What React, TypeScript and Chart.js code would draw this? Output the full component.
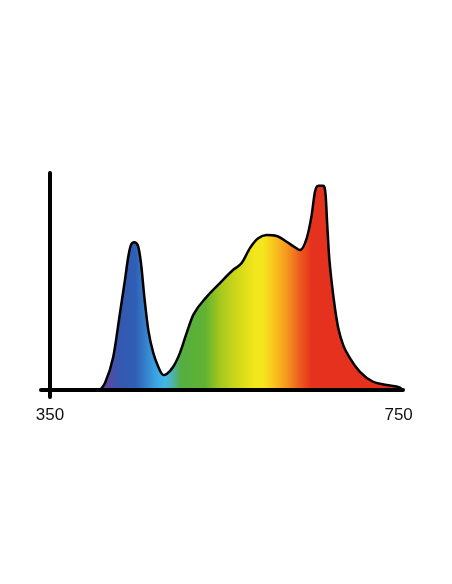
import React, { useEffect, useRef } from "react";
import { Chart, registerables } from "chart.js";

Chart.register(...registerables);

// Wavelength (nm) and relative intensity (%) of the spectrum curve
const WAVELENGTHS = [
  407.4, 413.1, 422.6, 430.3, 436.0, 439.8, 442.9, 446.4, 450.6, 454.4,
  458.2, 462.8, 468.5, 474.2, 480.0, 483.9, 491.4, 499.1, 506.8, 514.4,
  529.7, 545.0, 559.9, 569.9, 579.4, 588.9, 598.6, 610.0, 621.5, 631.0,
  636.8, 644.5, 650.2, 654.0, 657.8, 663.5, 666.2, 668.1, 670.4, 673.1,
  676.9, 680.7, 686.4, 694.1, 705.6, 720.8, 736.2, 751.5, 755.0,
];
const INTENSITY = [
  0, 3.2, 15.3, 35.5, 50.7, 61.4, 66.8, 68.1, 66.8, 58.5,
  43.0, 27.6, 17.1, 10.7, 6.9, 7.4, 10.7, 17.1, 26.3, 34.6,
  42.9, 49.3, 55.3, 58.5, 65.4, 69.9, 71.4, 71.0, 68.3, 65.8,
  64.5, 69.9, 80.6, 91.4, 94.1, 94.1, 89.9, 76.0, 60.8, 49.9,
  37.8, 28.6, 20.7, 14.7, 8.4, 3.8, 2.3, 1.1, 0,
];

// Spectrum gradient stops
const GRADIENT_NM = [
  400, 415, 430, 448, 460, 470, 482, 492, 500, 528, 545, 565, 585, 594,
  606, 622, 637, 650, 755,
];
const GRADIENT_COLORS = [
  "#5b48a0", "#5a4aa0", "#3558b0", "#2f5fb5", "#3580cc", "#3aa0e0",
  "#40b8e8", "#50b0a0", "#55ae40", "#60b232", "#a5c81e", "#d0d81a",
  "#f2e61c", "#f5e61e", "#f8c81e", "#f5961e", "#ee5a1e", "#e5321e",
  "#e5301e",
];

const TICK_VALUES = [350, 750];
const TICK_LABELS = ["350", "750"];

const X_MIN = 350;
const X_MAX = 755;

export default function App() {
  const canvasRef = useRef<HTMLCanvasElement | null>(null);

  useEffect(() => {
    const canvas = canvasRef.current;
    if (!canvas) return;

    const axesPlugin = {
      id: "handAxes",
      afterDatasetsDraw(chart: any) {
        const { ctx, chartArea, scales } = chart;
        const x0 = scales.x.getPixelForValue(X_MIN);
        const y0 = scales.y.getPixelForValue(0);
        ctx.save();
        ctx.strokeStyle = "#000";
        ctx.lineCap = "round";
        // vertical axis
        ctx.lineWidth = 4;
        ctx.beginPath();
        ctx.moveTo(x0, chartArea.top);
        ctx.lineTo(x0, y0 + 7);
        ctx.stroke();
        // horizontal axis
        ctx.lineWidth = 4;
        ctx.beginPath();
        ctx.moveTo(x0 - 9, y0);
        ctx.lineTo(chartArea.right, y0);
        ctx.stroke();
        // tick labels
        ctx.fillStyle = "#111";
        ctx.font = '17px "Liberation Sans", Arial, sans-serif';
        ctx.textAlign = "center";
        ctx.textBaseline = "alphabetic";
        TICK_VALUES.forEach((v, i) => {
          const px = scales.x.getPixelForValue(v);
          ctx.fillText(TICK_LABELS[i], px, y0 + 30);
        });
        ctx.restore();
      },
    };

    const chart = new Chart(canvas, {
      type: "line",
      data: {
        datasets: [
          {
            data: WAVELENGTHS.map((w, i) => ({ x: w, y: INTENSITY[i] })),
            borderColor: "#000",
            borderWidth: 2.5,
            pointRadius: 0,
            cubicInterpolationMode: "monotone",
            fill: "origin",
            backgroundColor: (c: any) => {
              const ch = c.chart;
              const { ctx, chartArea, scales } = ch;
              if (!chartArea || !scales.x) return "#e5301e";
              const l = scales.x.getPixelForValue(X_MIN);
              const r = scales.x.getPixelForValue(X_MAX);
              const g = ctx.createLinearGradient(l, 0, r, 0);
              GRADIENT_NM.forEach((nm, i) => {
                const p = (nm - X_MIN) / (X_MAX - X_MIN);
                g.addColorStop(Math.min(1, Math.max(0, p)), GRADIENT_COLORS[i]);
              });
              return g;
            },
          },
        ],
      },
      options: {
        animation: false,
        responsive: false,
        layout: { padding: { left: 50, right: 49, top: 173, bottom: 194 } },
        plugins: { legend: { display: false }, tooltip: { enabled: false } },
        scales: {
          x: { type: "linear", min: X_MIN, max: X_MAX, display: false },
          y: { min: 0, max: 100, display: false },
        },
      },
      plugins: [axesPlugin],
    });

    return () => chart.destroy();
  }, []);

  return (
    <div
      style={{
        position: "fixed",
        left: 0,
        top: 0,
        width: 452,
        height: 584,
        background: "#fff",
      }}
    >
      <canvas ref={canvasRef} width={452} height={584} />
    </div>
  );
}
